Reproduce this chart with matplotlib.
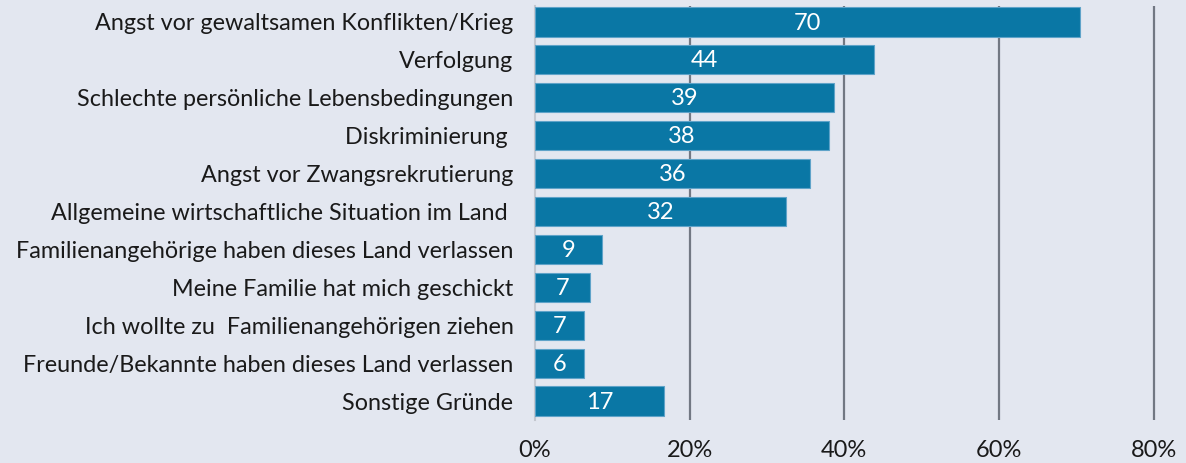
import matplotlib
matplotlib.use("Agg")
import matplotlib.pyplot as plt

categories = [
    "Angst vor gewaltsamen Konflikten/Krieg",
    "Verfolgung",
    "Schlechte persönliche Lebensbedingungen",
    "Diskriminierung ",
    "Angst vor Zwangsrekrutierung",
    "Allgemeine wirtschaftliche Situation im Land ",
    "Familienangehörige haben dieses Land verlassen",
    "Meine Familie hat mich geschickt",
    "Ich wollte zu  Familienangehörigen ziehen",
    "Freunde/Bekannte haben dieses Land verlassen",
    "Sonstige Gründe",
]
values = [70.5, 43.8, 38.7, 38.0, 35.6, 32.4, 8.7, 7.1, 6.4, 6.4, 16.7]
value_labels = ["70", "44", "39", "38", "36", "32", "9", "7", "7", "6", "17"]
xticks = [0, 20, 40, 60, 80]
xtick_labels = ["0%", "20%", "40%", "60%", "80%"]

BG = "#e3e7f0"
BAR = "#0a77a5"
EDGE = "#5fa3c9"

plt.rcParams["font.family"] = ["Lato", "DejaVu Sans"]

fig = plt.figure(figsize=(11.86, 4.63), dpi=100, facecolor=BG)
ax = fig.add_axes([535 / 1186, 1 - 420 / 463, (1169 - 535) / 1186, (420 - 6) / 463])
ax.set_facecolor(BG)

ypos = list(range(len(categories)))
ax.barh(ypos, values, height=0.77, color=BAR, edgecolor=EDGE, linewidth=0.8, zorder=3)
for y, v, lab in zip(ypos, values, value_labels):
    ax.text(v / 2, y + 0.03, lab, color="white", ha="center", va="center",
            fontsize=17, zorder=4)

ax.set_xlim(0, 82)
ax.set_ylim(10.5, -0.42)
ax.set_yticks(ypos)
ax.set_yticklabels(categories, fontsize=16.8, color="#1a1a1a")
ax.set_xticks(xticks)
ax.set_xticklabels(xtick_labels, fontsize=17, color="#1a1a1a")
ax.tick_params(axis="both", length=0)
ax.tick_params(axis="y", pad=15.5)
ax.tick_params(axis="x", pad=14.5)

for s in ["top", "right", "bottom"]:
    ax.spines[s].set_visible(False)
ax.spines["left"].set_color("#c3c7cf")
ax.spines["left"].set_linewidth(1.5)
ax.spines["left"].set_zorder(1)

for x in xticks[1:]:
    ax.axvline(x, color="#727883", linewidth=1.6, zorder=1)

fig.savefig("out.png", dpi=100, facecolor=BG)
